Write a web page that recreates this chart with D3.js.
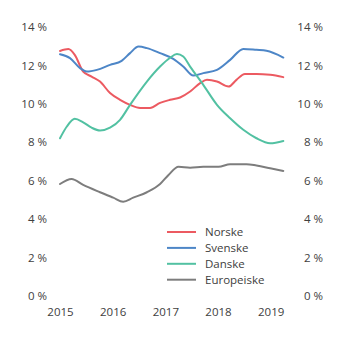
<!DOCTYPE html>
<html>
<head>
<meta charset="utf-8">
<script src="https://cdn.jsdelivr.net/npm/d3@7"></script>
<style>
  html, body { margin: 0; padding: 0; background: #fff; }
  svg text { font-family: "Open Sans", sans-serif; font-size: 11.5px; fill: #404040; }
</style>
</head>
<body>
<div id="chart"></div>
<script>
'use strict';

// values: [year, percent]
var norske = [[2015.0,12.75],[2015.16,12.85],[2015.28,12.55],[2015.44,11.68],[2015.6,11.42],[2015.76,11.16],
    [2015.95,10.56],[2016.14,10.21],[2016.33,9.95],[2016.52,9.79],[2016.71,9.79],[2016.9,10.05],[2017.09,10.21],
    [2017.28,10.33],[2017.47,10.64],[2017.66,11.08],[2017.79,11.25],[2017.98,11.16],[2018.2,10.9],[2018.35,11.25],
    [2018.51,11.56],[2018.73,11.56],[2018.99,11.51],[2019.24,11.39]];
var svenske = [[2015.0,12.58],[2015.19,12.38],[2015.38,11.86],[2015.51,11.68],[2015.7,11.77],[2015.95,12.03],
    [2016.17,12.24],[2016.33,12.64],[2016.49,12.98],[2016.65,12.9],[2016.9,12.64],[2017.15,12.34],[2017.34,11.94],
    [2017.53,11.47],[2017.72,11.6],[2017.98,11.77],[2018.23,12.29],[2018.48,12.86],[2018.73,12.81],[2018.92,12.76],
    [2019.24,12.41]];
var danske = [[2015.0,8.21],[2015.13,8.82],[2015.28,9.22],[2015.44,9.04],[2015.6,8.76],[2015.76,8.61],[2015.95,8.76],
    [2016.14,9.17],[2016.33,9.95],[2016.65,11.16],[2016.9,11.94],[2017.09,12.4],[2017.22,12.59],[2017.34,12.46],
    [2017.47,11.94],[2017.72,10.99],[2017.98,9.95],[2018.23,9.25],[2018.48,8.65],[2018.73,8.21],[2018.99,7.95],
    [2019.24,8.07]];
var europeiske = [[2015.0,5.83],[2015.22,6.09],[2015.44,5.78],[2015.76,5.4],[2016.01,5.12],[2016.2,4.91],[2016.39,5.12],
    [2016.65,5.4],[2016.9,5.83],[2017.06,6.3],[2017.25,6.73],[2017.47,6.68],[2017.72,6.73],[2018.01,6.73],[2018.23,6.86],
    [2018.54,6.86],[2018.73,6.79],[2018.99,6.65],[2019.24,6.51]];

var seriesNames = ["Norske", "Svenske", "Danske", "Europeiske"];
var seriesColors = ["#ec5a61", "#4d86c7", "#52c1a2", "#7d7d7d"];
var yTicks = [0, 2, 4, 6, 8, 10, 12, 14];
var xTicks = [2015, 2016, 2017, 2018, 2019];

var W = 345, H = 341;
var svg = d3.select("#chart").append("svg")
    .attr("width", W).attr("height", H);

var x = d3.scaleLinear().domain([2015, 2019]).range([60, 270.7]);
var y = d3.scaleLinear().domain([0, 14]).range([296, 27]);

// left axis
var left = svg.append("g")
    .attr("transform", "translate(47,0)")
    .call(d3.axisLeft(y).tickValues(yTicks).tickSize(0).tickPadding(0).tickFormat(function(d){return d + " %";}));
left.select(".domain").remove();

// right axis (labels right aligned like the left ones)
var right = svg.append("g")
    .attr("transform", "translate(323,0)")
    .call(d3.axisLeft(y).tickValues(yTicks).tickSize(0).tickPadding(0).tickFormat(function(d){return d + " %";}));
right.select(".domain").remove();

// x axis
var bottom = svg.append("g")
    .attr("transform", "translate(0,308)")
    .call(d3.axisBottom(x).tickValues(xTicks).tickSize(0).tickPadding(0).tickFormat(d3.format("d")));
bottom.select(".domain").remove();

svg.selectAll(".tick text")
    .attr("fill", "#404040")
    .style("font-family", "'Open Sans', sans-serif").style("font-size", "11.5px");

var line = d3.line()
    .x(function(d){return x(d[0]);})
    .y(function(d){return y(d[1]);})
    .curve(d3.curveMonotoneX);

var allSeries = [norske, svenske, danske, europeiske];
allSeries.forEach(function(s, i) {
    svg.append("path")
        .datum(s)
        .attr("d", line)
        .attr("fill", "none")
        .attr("stroke", seriesColors[i])
        .attr("stroke-width", 2)
        .attr("stroke-linejoin", "round")
        .attr("stroke-linecap", "round");
});

// legend
var legend = svg.append("g").attr("transform", "translate(167,232)");
seriesNames.forEach(function(name, i) {
    var g = legend.append("g").attr("transform", "translate(0," + (i * 15.9) + ")");
    g.append("line")
        .attr("x1", 0).attr("x2", 29).attr("y1", 0).attr("y2", 0)
        .attr("stroke", seriesColors[i]).attr("stroke-width", 2);
    g.append("text")
        .attr("x", 38).attr("y", 0).attr("dy", "0.35em")
        .text(name);
});
</script>
</body>
</html>
